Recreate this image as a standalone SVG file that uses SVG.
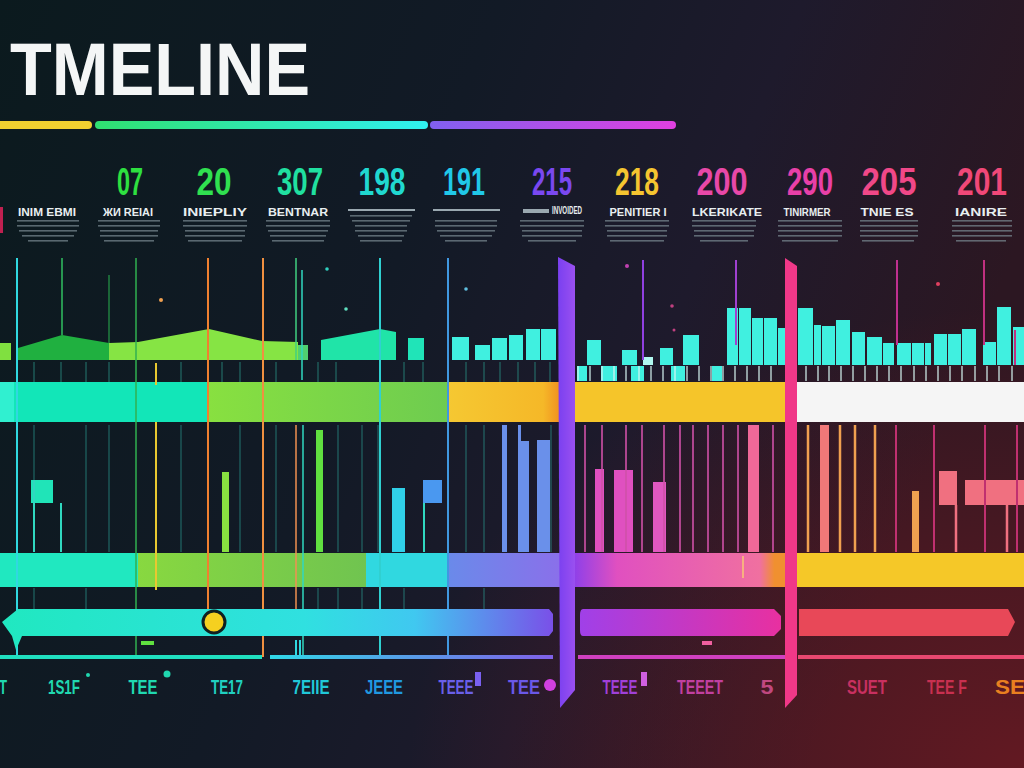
<svg xmlns="http://www.w3.org/2000/svg" width="1024" height="768" viewBox="0 0 1024 768">
<defs>
<linearGradient id="bg" x1="0" y1="0" x2="1" y2="0.3">
<stop offset="0" stop-color="#0b1a1e"/><stop offset="0.45" stop-color="#121a26"/><stop offset="0.72" stop-color="#1e1a2c"/><stop offset="1" stop-color="#2c1722"/>
</linearGradient>
<radialGradient id="red" cx="1" cy="1" r="0.6">
<stop offset="0" stop-color="#7a1a22" stop-opacity="0.7"/><stop offset="1" stop-color="#7a1a22" stop-opacity="0"/>
</radialGradient>
<linearGradient id="tb2" x1="0" x2="1"><stop offset="0" stop-color="#30e070"/><stop offset="1" stop-color="#30f0f0"/></linearGradient>
<linearGradient id="tb3" x1="0" x2="1"><stop offset="0" stop-color="#8060f0"/><stop offset="1" stop-color="#e040e0"/></linearGradient>
<linearGradient id="g1" x1="0" x2="1"><stop offset="0" stop-color="#88e040"/><stop offset="1" stop-color="#6ecc50"/></linearGradient>
<linearGradient id="y1" x1="0" x2="1"><stop offset="0" stop-color="#f5c832"/><stop offset="0.85" stop-color="#f5b828"/><stop offset="1" stop-color="#f09020"/></linearGradient>
<linearGradient id="p2" x1="0" x2="1"><stop offset="0" stop-color="#9040e8"/><stop offset="0.2" stop-color="#e050c0"/><stop offset="0.88" stop-color="#f070a0"/><stop offset="0.95" stop-color="#f09030"/><stop offset="1" stop-color="#f09030"/></linearGradient>
<linearGradient id="g2" x1="0" x2="1"><stop offset="0" stop-color="#88d840"/><stop offset="1" stop-color="#70c450"/></linearGradient>
<linearGradient id="v2" x1="0" x2="1"><stop offset="0" stop-color="#6a8aea"/><stop offset="1" stop-color="#8a70ea"/></linearGradient>
<linearGradient id="arr" x1="0" x2="553" gradientUnits="userSpaceOnUse"><stop offset="0" stop-color="#20e8c0"/><stop offset="0.55" stop-color="#30e0e0"/><stop offset="0.75" stop-color="#40c8f0"/><stop offset="1" stop-color="#7a50e8"/></linearGradient>
<linearGradient id="pill" x1="0" x2="1"><stop offset="0" stop-color="#a040e8"/><stop offset="1" stop-color="#e830a0"/></linearGradient>
<linearGradient id="base" x1="0" x2="1"><stop offset="0" stop-color="#30d8e8"/><stop offset="1" stop-color="#8060e8"/></linearGradient>
<linearGradient id="slabP" x1="0" x2="1"><stop offset="0" stop-color="#7a40f0"/><stop offset="1" stop-color="#9a50f0"/></linearGradient>
<style>
.yr{font-family:"Liberation Sans",Arial,sans-serif;font-weight:bold;font-size:38px;text-anchor:middle}
.hd{font-family:"Liberation Sans",Arial,sans-serif;font-weight:bold;font-size:10px;fill:#e8eef0;text-anchor:middle}
.bl{font-family:"Liberation Sans",Arial,sans-serif;font-weight:bold;font-size:21px;text-anchor:middle}
.ln{fill:#7a8a92;opacity:0.7}
.cy{fill:#40f0e0}
.tk{stroke:#2a8a80;stroke-width:1.2;opacity:0.7}
.tw{stroke:#d8f8f4;stroke-width:1.5;opacity:0.8}
</style>
</defs>
<rect width="1024" height="768" fill="url(#bg)"/>
<rect width="1024" height="768" fill="url(#red)"/>

<g id="title">
<text x="10" y="95" font-family="Liberation Sans,Arial,sans-serif" font-weight="bold" font-size="74" fill="#f4f6f6" textLength="300" lengthAdjust="spacingAndGlyphs">TMELINE</text>
<rect x="-5" y="121" width="97" height="8" rx="4" fill="#f0d030"/>
<rect x="95" y="121" width="333" height="8" rx="4" fill="url(#tb2)"/>
<rect x="430" y="121" width="246" height="8" rx="4" fill="url(#tb3)"/>
</g>

<g id="years">
<text class="yr" x="130" y="195" fill="#2ee040" textLength="26" lengthAdjust="spacingAndGlyphs">07</text>
<text class="yr" x="214" y="195" fill="#30e050" textLength="35" lengthAdjust="spacingAndGlyphs">20</text>
<text class="yr" x="300" y="195" fill="#20e0a0" textLength="46" lengthAdjust="spacingAndGlyphs">307</text>
<text class="yr" x="382" y="195" fill="#20d8d0" textLength="47" lengthAdjust="spacingAndGlyphs">198</text>
<text class="yr" x="464" y="195" fill="#20c8e8" textLength="42" lengthAdjust="spacingAndGlyphs">191</text>
<text class="yr" x="552" y="195" fill="#7a48f0" textLength="40" lengthAdjust="spacingAndGlyphs">215</text>
<text class="yr" x="637" y="195" fill="#f5c530" textLength="44" lengthAdjust="spacingAndGlyphs">218</text>
<text class="yr" x="722" y="195" fill="#e848a8" textLength="51" lengthAdjust="spacingAndGlyphs">200</text>
<text class="yr" x="810" y="195" fill="#e840a8" textLength="46" lengthAdjust="spacingAndGlyphs">290</text>
<text class="yr" x="889" y="195" fill="#f04888" textLength="55" lengthAdjust="spacingAndGlyphs">205</text>
<text class="yr" x="982" y="195" fill="#f04878" textLength="50" lengthAdjust="spacingAndGlyphs">201</text>
</g>

<g id="headers">
<rect x="0" y="207" width="3" height="26" fill="#c02050"/>
<text class="hd" x="47" y="216" textLength="58" lengthAdjust="spacingAndGlyphs">INIM EBMI</text>
<text class="hd" x="128" y="216" textLength="50" lengthAdjust="spacingAndGlyphs">ЖИ REIAI</text>
<text class="hd" x="215" y="216" textLength="64" lengthAdjust="spacingAndGlyphs">INIEPLIY</text>
<text class="hd" x="298" y="216" textLength="60" lengthAdjust="spacingAndGlyphs">BENTNAR</text>
<rect x="348" y="209" width="67" height="2" fill="#9aa8b0"/>
<rect x="433" y="209" width="67" height="2" fill="#9aa8b0"/>
<rect x="523" y="209" width="26" height="4" fill="#9aa8b0"/>
<text class="hd" x="567" y="214" font-size="7" textLength="30" lengthAdjust="spacingAndGlyphs">INVOIDED</text>
<text class="hd" x="638" y="216" textLength="57" lengthAdjust="spacingAndGlyphs">PENITIER I</text>
<text class="hd" x="727" y="216" textLength="70" lengthAdjust="spacingAndGlyphs">LKERIKATE</text>
<text class="hd" x="807" y="216" textLength="47" lengthAdjust="spacingAndGlyphs">TINIRMER</text>
<text class="hd" x="887" y="216" textLength="53" lengthAdjust="spacingAndGlyphs">TNIE ES</text>
<text class="hd" x="981" y="216" textLength="52" lengthAdjust="spacingAndGlyphs">IANIRE</text>
<g class="ln">
<rect x="17" y="220" width="62" height="1.6"/><rect x="17" y="225" width="62" height="1.6"/><rect x="19" y="230" width="58" height="1.6"/><rect x="22" y="235" width="52" height="1.6"/><rect x="28" y="240" width="40" height="1.6"/>
<rect x="98" y="220" width="62" height="1.6"/><rect x="98" y="225" width="62" height="1.6"/><rect x="100" y="230" width="58" height="1.6"/><rect x="100" y="235" width="58" height="1.6"/><rect x="104" y="240" width="50" height="1.6"/>
<rect x="183" y="220" width="64" height="1.6"/><rect x="183" y="225" width="64" height="1.6"/><rect x="185" y="230" width="60" height="1.6"/><rect x="185" y="235" width="60" height="1.6"/><rect x="188" y="240" width="54" height="1.6"/>
<rect x="266" y="220" width="64" height="1.6"/><rect x="266" y="225" width="64" height="1.6"/><rect x="268" y="230" width="60" height="1.6"/><rect x="270" y="235" width="56" height="1.6"/><rect x="272" y="240" width="52" height="1.6"/>
<rect x="350" y="215" width="62" height="1.6"/><rect x="352" y="220" width="58" height="1.6"/><rect x="355" y="225" width="52" height="1.6"/><rect x="355" y="230" width="52" height="1.6"/><rect x="358" y="235" width="46" height="1.6"/><rect x="360" y="240" width="42" height="1.6"/>
<rect x="435" y="220" width="62" height="1.6"/><rect x="435" y="225" width="62" height="1.6"/><rect x="437" y="230" width="58" height="1.6"/><rect x="440" y="235" width="52" height="1.6"/><rect x="445" y="240" width="42" height="1.6"/>
<rect x="520" y="220" width="64" height="1.6"/><rect x="520" y="225" width="64" height="1.6"/><rect x="522" y="230" width="60" height="1.6"/><rect x="522" y="235" width="60" height="1.6"/><rect x="528" y="240" width="48" height="1.6"/>
<rect x="605" y="220" width="64" height="1.6"/><rect x="605" y="225" width="64" height="1.6"/><rect x="607" y="230" width="60" height="1.6"/><rect x="607" y="235" width="60" height="1.6"/><rect x="610" y="240" width="54" height="1.6"/>
<rect x="692" y="220" width="64" height="1.6"/><rect x="692" y="225" width="64" height="1.6"/><rect x="694" y="230" width="60" height="1.6"/><rect x="694" y="235" width="60" height="1.6"/><rect x="700" y="240" width="48" height="1.6"/>
<rect x="778" y="220" width="64" height="1.6"/><rect x="778" y="225" width="64" height="1.6"/><rect x="778" y="230" width="64" height="1.6"/><rect x="778" y="235" width="64" height="1.6"/><rect x="782" y="240" width="56" height="1.6"/>
<rect x="860" y="220" width="58" height="1.6"/><rect x="860" y="225" width="58" height="1.6"/><rect x="860" y="230" width="58" height="1.6"/><rect x="860" y="235" width="58" height="1.6"/><rect x="862" y="240" width="52" height="1.6"/>
<rect x="952" y="220" width="60" height="1.6"/><rect x="952" y="225" width="60" height="1.6"/><rect x="952" y="230" width="60" height="1.6"/><rect x="952" y="235" width="60" height="1.6"/><rect x="956" y="240" width="50" height="1.6"/>
</g>
</g>

<g id="chart-left">
<rect x="0" y="343" width="11" height="17" fill="#80e040"/>
<polygon points="18,348 62,335 109,343 109,360 18,360" fill="#20b040"/>
<polygon points="109,343 138,342 209,329 262,341 298,342 298,360 109,360" fill="#86e444"/>
<rect x="298" y="345" width="10" height="15" fill="#50d070"/>
<polygon points="321,340 380,329 396,332 396,360 321,360" fill="#20e4a8"/>
<rect x="408" y="338" width="16" height="22" fill="#20e4b8"/>
<rect x="452" y="337" width="17" height="23" class="cy"/>
<rect x="475" y="345" width="15" height="15" class="cy"/>
<rect x="492" y="338" width="15" height="22" class="cy"/>
<rect x="509" y="335" width="14" height="25" class="cy"/>
<rect x="526" y="329" width="14" height="31" class="cy"/>
<rect x="541" y="329" width="15" height="31" class="cy"/>
</g>

<g id="chart-right">
<rect x="587" y="340" width="14" height="25" class="cy"/>
<rect x="622" y="350" width="15" height="15" class="cy"/>
<rect x="643" y="357" width="10" height="8" fill="#b0f8f0"/>
<rect x="660" y="348" width="13" height="17" class="cy"/>
<rect x="683" y="335" width="16" height="30" class="cy"/>
<rect x="727" y="308" width="11" height="57" class="cy"/>
<rect x="739" y="308" width="12" height="57" class="cy"/>
<rect x="752" y="318" width="11" height="47" class="cy"/>
<rect x="764" y="318" width="13" height="47" class="cy"/>
<rect x="778" y="328" width="8" height="37" class="cy"/>
<rect x="798" y="308" width="15" height="57" class="cy"/>
<rect x="814" y="325" width="7" height="40" class="cy"/>
<rect x="822" y="326" width="13" height="39" class="cy"/>
<rect x="836" y="320" width="14" height="45" class="cy"/>
<rect x="852" y="332" width="13" height="33" class="cy"/>
<rect x="867" y="337" width="15" height="28" class="cy"/>
<rect x="883" y="343" width="11" height="22" class="cy"/>
<rect x="897" y="343" width="14" height="22" class="cy"/>
<rect x="912" y="343" width="12" height="22" class="cy"/>
<rect x="925" y="343" width="6" height="22" class="cy"/>
<rect x="934" y="334" width="13" height="31" class="cy"/>
<rect x="948" y="334" width="13" height="31" class="cy"/>
<rect x="962" y="329" width="14" height="36" class="cy"/>
<rect x="983" y="342" width="13" height="23" class="cy"/>
<rect x="997" y="307" width="14" height="58" class="cy"/>
<rect x="1013" y="327" width="11" height="38" class="cy"/>
<rect x="577" y="366" width="10" height="15" class="cy"/>
<rect x="601" y="366" width="16" height="15" class="cy"/>
<rect x="631" y="366" width="13" height="15" class="cy"/>
<rect x="671" y="366" width="14" height="15" class="cy"/>
<rect x="712" y="366" width="10" height="15" class="cy"/>
<path class="tw" d="M578 366v15M590 366v15M602 366v15M614 366v15M626 366v15M639 366v15M651 366v15M663 366v15M675 366v15M687 366v15M699 366v15M711 366v15M723 366v15M735 366v15M747 366v15M759 366v15M771 366v15M806 366v15M818 366v15M829 366v15M841 366v15M853 366v15M865 366v15M877 366v15M889 366v15M901 366v15M914 366v15M926 366v15M938 366v15M950 366v15M962 366v15M975 366v15M987 366v15M999 366v15M1012 366v15"/>
</g>

<g id="band1">
<rect x="0" y="382" width="209" height="40" fill="#12e6b8"/>
<rect x="0" y="382" width="14" height="40" fill="#30f0d0"/>
<rect x="209" y="382" width="239" height="40" fill="url(#g1)"/>
<rect x="448" y="382" width="112" height="40" fill="url(#y1)"/>
<rect x="572" y="382" width="216" height="40" fill="#f5c52a"/>
<rect x="797" y="382" width="227" height="40" fill="#f5f5f5"/>
</g>

<g id="lower-bars">
<rect x="31" y="480" width="22" height="23" fill="#20e4b8"/>
<rect x="222" y="472" width="7" height="80" fill="#88e040"/>
<rect x="316" y="430" width="7" height="122" fill="#60e040"/>
<rect x="392" y="488" width="13" height="64" fill="#30d0e8"/>
<rect x="423" y="480" width="19" height="23" fill="#4a98f0"/>
<rect x="502" y="425" width="5" height="127" fill="#6a90ea"/>
<polygon points="518,425 521,425 521,441 529,441 529,552 518,552" fill="#6a90ea"/>
<rect x="537" y="440" width="13" height="112" fill="#6a90ea"/>
<rect x="595" y="469" width="9" height="83" fill="#e050c0"/>
<rect x="614" y="470" width="19" height="82" fill="#e050c0"/>
<rect x="653" y="482" width="13" height="70" fill="#e058c0"/>
<rect x="748" y="425" width="11" height="127" fill="#f06898"/>
<rect x="820" y="425" width="9" height="127" fill="#f07878"/>
<rect x="912" y="491" width="7" height="61" fill="#f0a050"/>
<rect x="939" y="471" width="18" height="34" fill="#f07080"/>
<rect x="965" y="480" width="59" height="25" fill="#f07080"/>
</g>

<g id="band2">
<rect x="0" y="553" width="138" height="34" fill="#20e8c0"/>
<rect x="138" y="553" width="228" height="34" fill="url(#g2)"/>
<rect x="366" y="553" width="82" height="34" fill="#30d8e0"/>
<rect x="448" y="553" width="112" height="34" fill="url(#v2)"/>
<rect x="575" y="553" width="210" height="34" fill="url(#p2)"/>
<rect x="742" y="556" width="2" height="22" fill="#f8b080"/>
<rect x="797" y="553" width="227" height="34" fill="#f5c828"/>
</g>

<g id="connectors" fill="none">
<path d="M17 258V657" stroke="#30d8e0" stroke-width="2"/>
<path d="M62 258V335" stroke="#30c060" stroke-width="1.5"/>
<path d="M109 275V343" stroke="#208040" stroke-width="1.5"/>
<path d="M136 258V657" stroke="#30b050" stroke-width="1.5"/>
<path d="M156 363V385M156 422V590" stroke="#e8c830" stroke-width="2"/>
<path d="M208 258V612" stroke="#f08030" stroke-width="2"/>
<path d="M263 258V657" stroke="#f09040" stroke-width="2"/>
<path d="M296 258V360" stroke="#40d080" stroke-width="1.5"/>
<path d="M296 425V612" stroke="#f09050" stroke-width="1.5"/>
<path d="M302 270V380M303 425V657" stroke="#30d8c0" stroke-width="1.5"/>
<path d="M380 258V657" stroke="#30d0d0" stroke-width="2"/>
<path d="M448 258V657" stroke="#4098e0" stroke-width="2"/>
<path d="M34 480V552M61 503V552M424 503V552" stroke="#30d8c0" stroke-width="2"/>
<path d="M34 425V480M86 425V552M109 425V552M181 425V552M240 425V552M276 425V552M338 425V552M362 425V552M378 425V552M466 425V552M484 425V552M551 425V552M34 588V610M86 588V610M318 588V610M338 588V610M362 588V610M404 588V610M484 588V610" stroke="#2a9a90" stroke-width="1.2" opacity="0.6"/>
<path class="tk" d="M34 362V382M61 362V382M86 362V382M109 362V382M181 362V382M222 362V382M240 362V382M276 362V382M318 362V382M336 362V382M404 362V382M423 362V382M466 362V382M484 362V382M500 362V382M518 362V382M535 362V382M550 362V382"/>
<path d="M643 260V360" stroke="#9040e0" stroke-width="2"/>
<path d="M736 260V345" stroke="#a040d0" stroke-width="2"/>
<path d="M897 260V345" stroke="#c03090" stroke-width="2"/>
<path d="M984 260V345" stroke="#c03080" stroke-width="2"/>
<path d="M1015 330V365" stroke="#c03080" stroke-width="2"/>
<path d="M585 425V552M602 425V552M626 425V552M642 425V552M664 425V552M680 425V552M693 425V552M708 425V552M723 425V552M738 425V552M773 425V552" stroke="#d050a8" stroke-width="2" opacity="0.8"/>
<path d="M808 425V552M840 425V552M855 425V552M875 425V552" stroke="#f0a050" stroke-width="2.5"/>
<path d="M896 425V552M934 425V552M985 425V552M1017 425V552" stroke="#c03070" stroke-width="2"/>
<path d="M956 505V552M1007 505V552" stroke="#f07080" stroke-width="2.5"/>
<path d="M141 643H154" stroke="#60e040" stroke-width="4"/>
<path d="M702 643H712" stroke="#f060a0" stroke-width="4"/>
<path d="M296 640V657M300 640V657" stroke="#30d8e0" stroke-width="2"/>
</g>

<g id="dots">
<circle cx="161" cy="300" r="2" fill="#f0a050"/>
<circle cx="327" cy="269" r="1.8" fill="#30d0c0"/>
<circle cx="346" cy="309" r="1.8" fill="#60e0c0"/>
<circle cx="466" cy="289" r="1.8" fill="#60c0e0"/>
<circle cx="627" cy="266" r="2" fill="#c040b0"/>
<circle cx="672" cy="306" r="1.8" fill="#c04080"/>
<circle cx="674" cy="330" r="1.5" fill="#c04080"/>
<circle cx="938" cy="284" r="2" fill="#e04060"/>
</g>

<g id="arrow-band">
<polygon points="2,622 18,609 549,609 553,614 553,631 549,636 22,636 16,650 12,636" fill="url(#arr)"/>
<circle cx="214" cy="622" r="11" fill="#f5d020" stroke="#102020" stroke-width="3"/>
<path d="M583 609H774L781 616V629L774 636H583Q580 636 580 630V615Q580 609 583 609Z" fill="url(#pill)"/>
<path d="M799 609H1008L1015 622L1008 636H799Z" fill="#e84858"/>
</g>

<g id="baseline">
<rect x="0" y="655" width="262" height="4" fill="#20e0c0"/>
<rect x="270" y="655" width="283" height="4" fill="url(#base)"/>
<rect x="578" y="655" width="207" height="4" fill="#d040c0"/>
<rect x="798" y="655" width="226" height="4" fill="#e84870"/>
</g>

<g id="slabs">
<polygon points="558,257 575,266 575,690 560,708" fill="url(#slabP)"/>
<polygon points="785,258 797,266 797,695 785,708" fill="#f03888"/>
</g>

<g id="bottom-labels">
<text class="bl" x="3" y="694" fill="#20d8b0" textLength="8" lengthAdjust="spacingAndGlyphs">T</text>
<text class="bl" x="64" y="694" fill="#20d8b0" textLength="32" lengthAdjust="spacingAndGlyphs">1S1F</text>
<circle cx="88" cy="675" r="2" fill="#20d8b0"/>
<text class="bl" x="143" y="694" fill="#20d8b0" textLength="29" lengthAdjust="spacingAndGlyphs">TEE</text>
<circle cx="167" cy="674" r="3.5" fill="#20d8b0"/>
<text class="bl" x="227" y="694" fill="#20d0c0" textLength="32" lengthAdjust="spacingAndGlyphs">TE17</text>
<text class="bl" x="311" y="694" fill="#20c8d8" textLength="37" lengthAdjust="spacingAndGlyphs">7EIIE</text>
<text class="bl" x="384" y="694" fill="#2098e0" textLength="38" lengthAdjust="spacingAndGlyphs">JEEE</text>
<text class="bl" x="456" y="694" fill="#6a60e8" textLength="35" lengthAdjust="spacingAndGlyphs">TEEE</text>
<rect x="475" y="672" width="6" height="14" fill="#7a60f0"/>
<text class="bl" x="524" y="694" fill="#6a58e8" textLength="32" lengthAdjust="spacingAndGlyphs">TEE</text>
<circle cx="550" cy="685" r="6" fill="#d040e0"/>
<text class="bl" x="620" y="694" fill="#a040d8" textLength="35" lengthAdjust="spacingAndGlyphs">TEEE</text>
<rect x="641" y="672" width="6" height="14" fill="#d060e0"/>
<text class="bl" x="700" y="694" fill="#c040a0" textLength="46" lengthAdjust="spacingAndGlyphs">TEEET</text>
<text class="bl" x="767" y="694" fill="#c04880" textLength="13" lengthAdjust="spacingAndGlyphs">5</text>
<text class="bl" x="867" y="694" fill="#c83060" textLength="40" lengthAdjust="spacingAndGlyphs">SUET</text>
<text class="bl" x="947" y="694" fill="#c83050" textLength="40" lengthAdjust="spacingAndGlyphs">TEE F</text>
<text class="bl" x="1010" y="694" fill="#e88020" textLength="30" lengthAdjust="spacingAndGlyphs">SE</text>
</g>
</svg>
